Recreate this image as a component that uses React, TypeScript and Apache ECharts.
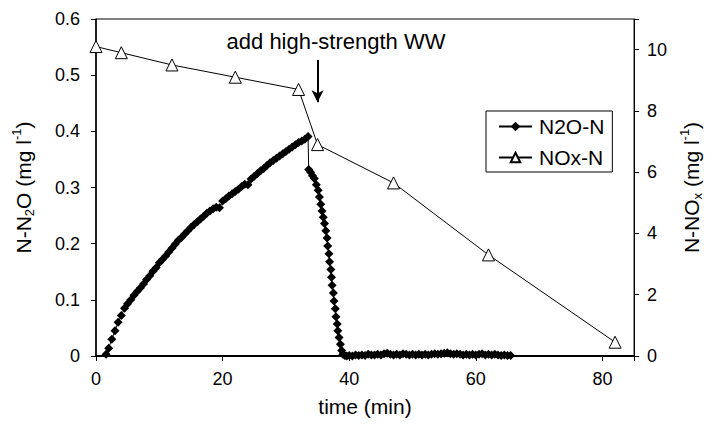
import React, { useEffect, useRef } from "react";
import * as echarts from "echarts";

const FONT = "'Liberation Sans', Arial, sans-serif";

// N2O-N (left axis, mg/l) — time (min) and value
const n2oTime = [
  1.6, 2.0, 2.5, 3.0, 3.5, 4.0, 4.5, 5.0, 5.5, 6.0, 6.5, 7.0, 7.5, 8.0, 8.5, 9.0, 9.5, 10.0,
  10.5, 11.0, 11.5, 12.0, 12.5, 13.0, 13.5, 14.0, 14.5, 15.0, 15.5, 16.0, 16.5, 17.0, 17.5,
  18.0, 18.5, 19.0, 19.5, 20.0, 20.5, 21.0, 21.5, 22.0, 22.5, 23.0, 23.5, 24.0, 24.5, 25.0,
  25.5, 26.0, 26.5, 27.0, 27.5, 28.0, 28.5, 29.0, 29.5, 30.0, 30.5, 31.0, 31.5, 32.0, 32.5,
  33.0, 33.5,
  33.6, 33.9, 34.2, 34.5, 34.8, 35.1, 35.3, 35.5, 35.7, 35.9, 36.1, 36.3, 36.5, 36.6, 36.8,
  36.9, 37.1, 37.2, 37.3, 37.5, 37.6, 37.8, 37.9, 38.1, 38.2, 38.4, 38.6, 38.8, 39.0, 39.3,
  39.6, 40.0, 40.5, 41.0, 41.5, 42.0, 42.5, 43.0, 43.5, 44.0, 44.5, 45.0, 45.5, 46.0, 46.5,
  47.0, 47.5, 48.0, 48.5, 49.0, 49.5, 50.0, 50.5, 51.0, 51.5, 52.0, 52.5, 53.0, 53.5, 54.0,
  54.5, 55.0, 55.5, 56.0, 56.5, 57.0, 57.5, 58.0, 58.5, 59.0, 59.5, 60.0, 60.5, 61.0, 61.5,
  62.0, 62.5, 63.0, 63.5, 64.0, 64.5, 65.0, 65.5, 66.0,
];
const n2oValue = [
  0.003, 0.014, 0.03, 0.045, 0.06, 0.072, 0.085, 0.093, 0.1, 0.108, 0.115, 0.121, 0.128,
  0.136, 0.143, 0.151, 0.157, 0.166, 0.172, 0.178, 0.185, 0.192, 0.199, 0.206, 0.211, 0.217,
  0.223, 0.229, 0.234, 0.239, 0.244, 0.249, 0.254, 0.258, 0.262, 0.265, 0.264, 0.276, 0.28,
  0.285, 0.289, 0.293, 0.297, 0.302, 0.306, 0.305, 0.315, 0.32, 0.325, 0.33, 0.334, 0.339,
  0.344, 0.348, 0.352, 0.356, 0.36, 0.364, 0.368, 0.372, 0.376, 0.38, 0.383, 0.386, 0.391,
  0.332, 0.327, 0.321, 0.316, 0.305, 0.295, 0.283, 0.27, 0.258, 0.247, 0.236, 0.223, 0.21,
  0.196, 0.182, 0.168, 0.154, 0.14, 0.126, 0.112, 0.098, 0.084, 0.07, 0.057, 0.045, 0.033,
  0.021, 0.01, 0.003, 0.001,
  0.0, 0.001, 0.0, 0.002, 0.001, 0.002, 0.001, 0.003, 0.002, 0.002, 0.003, 0.002, 0.004,
  0.005, 0.003, 0.002, 0.003, 0.002, 0.004, 0.003, 0.002, 0.003, 0.002, 0.003, 0.002, 0.003,
  0.002, 0.003, 0.004, 0.003, 0.004, 0.005, 0.006, 0.004, 0.003, 0.004, 0.003, 0.002, 0.003,
  0.002, 0.003, 0.002, 0.003, 0.004, 0.002, 0.003, 0.002, 0.003, 0.002, 0.001, 0.002, 0.001,
  0.001,
];

// NOx-N (right axis, mg/l)
const noxTime = [0, 4, 12, 22, 32, 35, 47, 62, 82];
const noxValue = [10.1, 9.9, 9.5, 9.1, 8.7, 6.9, 5.65, 3.3, 0.45];

// Axis ticks
const xTicks = [0, 85, 20];
const yLeftTicks = [0, 0.6, 0.1];
const yRightTicks = [0, 11, 2];

// Annotation
const annotationText = "add high-strength WW";
const arrowTime = 35;
const arrowFrom = 0.527;
const arrowTo = 0.452;

export default function App() {
  const ref = useRef<HTMLDivElement>(null);

  useEffect(() => {
    if (!ref.current) return;
    const chart = echarts.init(ref.current, null, { renderer: "svg" });
    const axisLabel = { color: "#000", fontSize: 18, fontFamily: FONT };
    const rich = {
      a: { fontSize: 21, fontFamily: FONT, color: "#000", lineHeight: 26 },
      s: { fontSize: 13, fontFamily: FONT, color: "#000", verticalAlign: "bottom", lineHeight: 26 },
      p: { fontSize: 13, fontFamily: FONT, color: "#000", verticalAlign: "top", lineHeight: 26 },
    };
    chart.setOption({
      animation: false,
      backgroundColor: "#fff",
      grid: {
        left: 96,
        right: 73,
        top: 19,
        bottom: 70,
        show: true,
        borderColor: "#000",
        borderWidth: 1,
      },
      legend: {
        orient: "vertical",
        left: 486,
        top: 111,
        padding: [5, 8, 4, 12],
        itemGap: 10,
        itemWidth: 33,
        itemHeight: 12,
        borderColor: "#000",
        borderWidth: 1,
        backgroundColor: "#fff",
        textStyle: { color: "#000", fontSize: 21, fontFamily: FONT, padding: [0, 0, 0, 2] },
        data: ["N2O-N", "NOx-N"],
      },
      xAxis: {
        type: "value",
        min: xTicks[0],
        max: xTicks[1],
        interval: xTicks[2],
        name: "time (min)",
        nameLocation: "middle",
        nameGap: 40,
        nameTextStyle: { color: "#000", fontSize: 21, fontFamily: FONT },
        axisLine: { show: true, lineStyle: { color: "#000", width: 2 } },
        axisTick: { show: true, length: 5, lineStyle: { color: "#000" } },
        axisLabel: {
          ...axisLabel,
          margin: 14,
          formatter: (v: number) => (v % 20 === 0 ? String(v) : ""),
        },
        splitLine: { show: false },
      },
      yAxis: [
        {
          type: "value",
          position: "left",
          min: yLeftTicks[0],
          max: yLeftTicks[1],
          interval: yLeftTicks[2],
          name: "{a|N-N}{s|2}{a|O (mg l}{p|-1}{a|)}",
          nameLocation: "middle",
          nameRotate: 90,
          nameGap: 60,
          nameTextStyle: { rich },
          axisLine: { show: true, lineStyle: { color: "#000", width: 1.5 } },
          axisTick: { show: true, length: 5, lineStyle: { color: "#000" } },
          axisLabel: {
            ...axisLabel,
            margin: 16,
            formatter: (v: number) => (v === 0 ? "0" : v.toFixed(1)),
          },
          splitLine: { show: false },
        },
        {
          type: "value",
          position: "right",
          min: yRightTicks[0],
          max: yRightTicks[1],
          interval: yRightTicks[2],
          name: "{a|N-NO}{s|x}{a| (mg l}{p|-1}{a|)}",
          nameLocation: "middle",
          nameRotate: 90,
          nameGap: 40,
          nameTextStyle: { rich },
          axisLine: { show: true, lineStyle: { color: "#000", width: 1 } },
          axisTick: { show: true, length: 5, lineStyle: { color: "#000" } },
          axisLabel: {
            ...axisLabel,
            margin: 13,
            formatter: (v: number) => (v > 10 ? "" : String(v)),
          },
          splitLine: { show: false },
        },
      ],
      graphic: [
        {
          type: "text",
          x: 336,
          y: 41,
          style: {
            text: annotationText,
            fontSize: 22,
            fontFamily: FONT,
            fill: "#000",
            align: "center",
            verticalAlign: "middle",
          },
        },
      ],
      series: [
        {
          name: "N2O-N",
          type: "line",
          xAxisIndex: 0,
          yAxisIndex: 0,
          data: n2oTime.map((t, i) => [t, n2oValue[i]]),
          symbol: "diamond",
          symbolSize: 9,
          showAllSymbol: true,
          itemStyle: { color: "#000" },
          lineStyle: { color: "#000", width: 1 },
          z: 3,
          markLine: {
            silent: true,
            symbol: ["none", "arrow"],
            symbolSize: [9, 12],
            label: { show: false },
            lineStyle: { color: "#000", width: 2, type: "solid" },
            data: [[{ coord: [arrowTime, arrowFrom] }, { coord: [arrowTime, arrowTo] }]],
          },
        },
        {
          name: "NOx-N",
          type: "line",
          xAxisIndex: 0,
          yAxisIndex: 1,
          data: noxTime.map((t, i) => [t, noxValue[i]]),
          symbol: "triangle",
          symbolSize: 12,
          showAllSymbol: true,
          itemStyle: { color: "#fff", borderColor: "#000", borderWidth: 1 },
          lineStyle: { color: "#000", width: 1 },
          z: 4,
        },
      ],
    });
    return () => chart.dispose();
  }, []);

  return <div ref={ref} style={{ width: 712, height: 426, position: "fixed", left: 0, top: 0, background: "#fff" }} />;
}
